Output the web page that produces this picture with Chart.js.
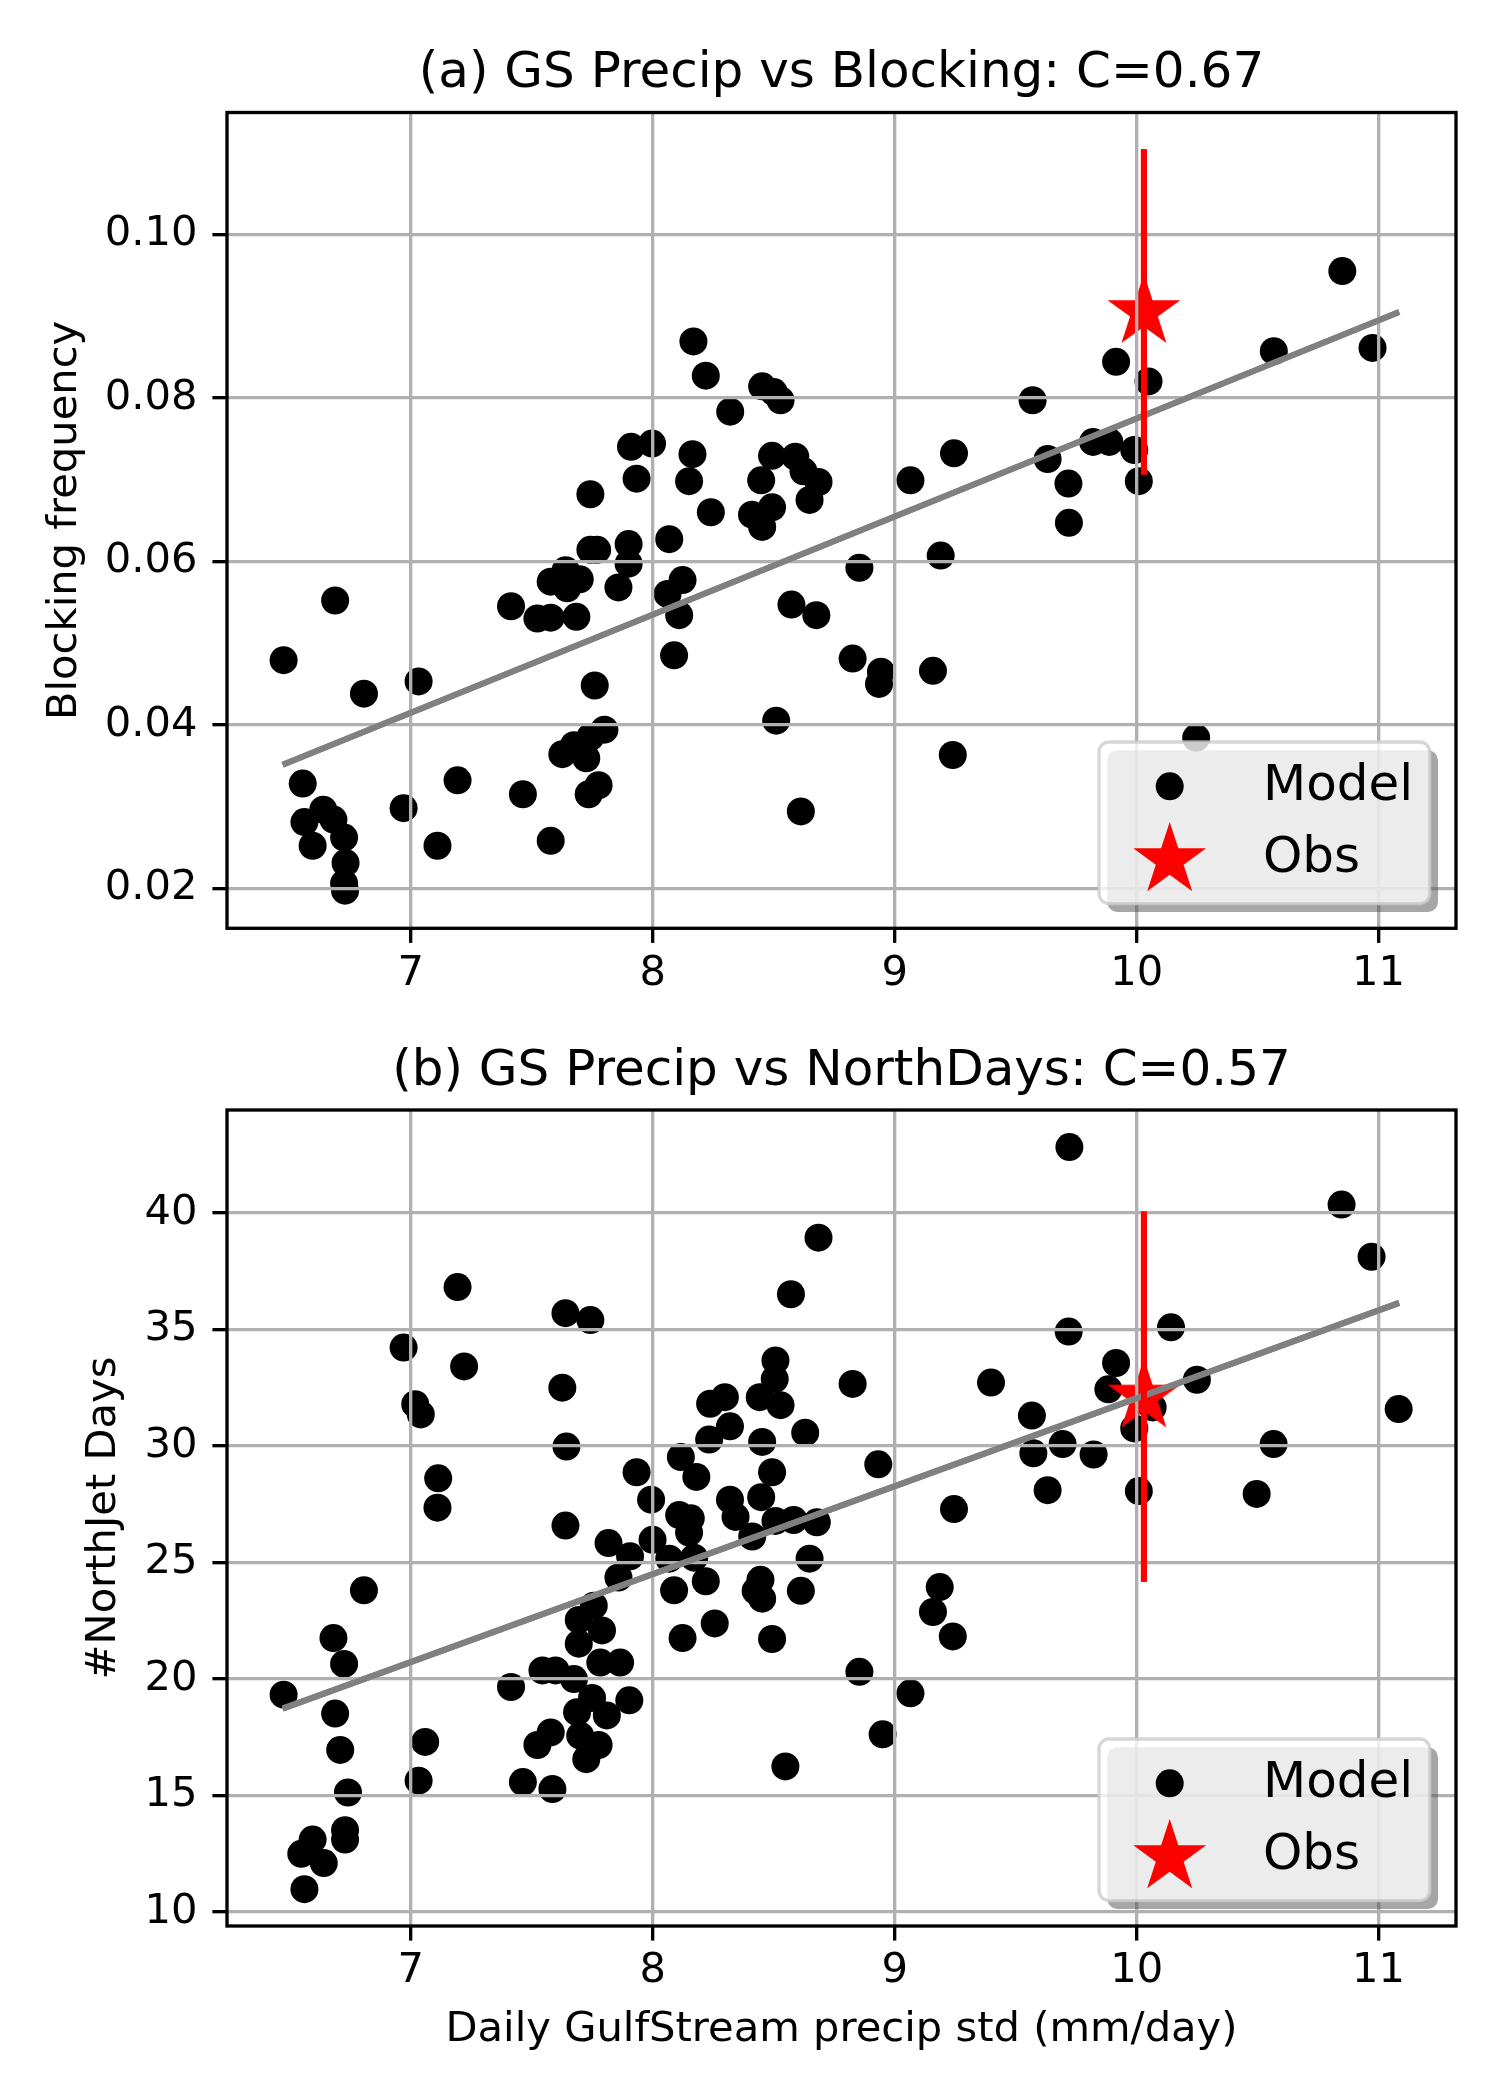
<!DOCTYPE html>
<html><head><meta charset="utf-8">
<script src="https://cdn.jsdelivr.net/npm/chart.js@4.4.1/dist/chart.umd.min.js"></script>
<style>
html,body{margin:0;padding:0;background:#fff;}
body{width:1500px;height:2100px;position:relative;overflow:hidden;font-family:'DejaVu Sans';}
canvas{position:absolute;left:0;}
#cA{top:0;}
#cB{top:1040px;}
svg.leg{position:absolute;left:1091.3px;}
</style></head><body>
<canvas id="cA" width="1500" height="1040"></canvas>
<canvas id="cB" width="1500" height="1060"></canvas>
<svg class="leg" id="legA" width="360" height="190" style="top:733.7px"></svg>
<svg class="leg" id="legB" width="360" height="190" style="top:1731.4px"></svg>
<script>
// ---------- data ----------
const xTicks = [7, 8, 9, 10, 11];
const yTicksA = [0.02, 0.04, 0.06, 0.08, 0.10];
const yTicksB = [10, 15, 20, 25, 30, 35, 40];

const modelXA = [6.474,6.687,6.806,7.032,6.553,6.56,6.638,6.68,6.594,6.724,6.73,6.724,6.728,6.97,7.11,7.193,7.463,7.578,7.414,7.523,7.578,7.684,7.578,7.64,7.646,7.698,7.742,7.77,7.742,7.91,7.933,7.90,7.90,7.858,7.76,7.80,7.742,7.674,7.626,7.725,7.776,7.735,
  8.168,8.219,8.452,8.50,8.528,8.32,7.997,8.164,8.15,8.493,8.589,8.623,8.685,8.648,8.448,8.493,8.41,8.452,8.24,8.068,8.123,8.061,8.109,8.088,8.573,8.676,8.51,8.612,8.854,8.826,8.943,8.935,9.065,9.245,9.19,9.158,9.24,9.57,9.632,
  10.85,10.567,10.975,9.915,10.049,9.82,9.887,9.99,10.009,9.718,9.72,10.246];
const modelYA = [0.0479,0.0552,0.0438,0.0453,0.0328,0.0281,0.0296,0.0284,0.0252,0.0262,0.0231,0.0206,0.0197,0.0298,0.0252,0.0332,0.0315,0.0258,0.0545,0.0530,0.0531,0.0532,0.0575,0.0589,0.0567,0.0578,0.0614,0.0614,0.0682,0.0740,0.0701,0.0621,0.0597,0.0568,0.0448,0.0394,0.0385,0.0375,0.0364,0.0359,0.0326,0.0315,
  0.0869,0.0827,0.0814,0.0807,0.0797,0.0783,0.0744,0.0731,0.0698,0.0729,0.0728,0.0710,0.0697,0.0675,0.0699,0.0666,0.0657,0.0642,0.0660,0.0627,0.0577,0.0560,0.0534,0.0485,0.0547,0.0534,0.0405,0.0294,0.0592,0.0481,0.0465,0.0450,0.0699,0.0732,0.0607,0.0466,0.0363,0.0797,0.0725,
  0.0955,0.0857,0.0861,0.0844,0.0820,0.0746,0.0746,0.0736,0.0698,0.0695,0.0647,0.0384];

const modelXB = [6.474,6.56,6.547,6.594,6.64,6.68,6.724,6.687,6.708,6.74,6.728,6.728,6.806,6.97,7.018,7.041,7.113,7.11,7.193,7.22,7.059,7.032,7.414,7.463,7.523,7.578,7.585,7.544,7.598,7.639,7.742,7.626,7.643,7.639,7.817,7.933,7.858,7.906,7.756,7.694,7.79,7.694,7.674,7.783,7.865,7.749,7.903,7.687,7.81,7.70,7.776,7.725,
  8.685,8.571,8.507,8.504,8.442,8.528,8.63,8.452,8.826,8.932,8.237,8.298,8.319,8.233,8.116,8.18,7.993,8.493,8.319,8.448,8.342,8.109,8.157,8.15,8.507,8.582,8.678,8.411,7.999,8.068,8.171,8.648,8.088,8.219,8.445,8.425,8.452,8.612,8.256,8.123,8.493,8.854,8.95,8.548,9.065,9.186,9.158,9.24,9.245,9.398,9.567,9.573,9.632,
  9.722,10.847,10.971,9.719,10.142,9.915,9.883,10.249,10.066,9.99,11.083,9.694,9.822,10.009,10.566,10.496];
const modelYB = [19.32,10.97,12.49,13.10,12.09,21.75,20.64,18.51,16.95,15.12,13.50,13.10,23.80,34.22,31.79,31.35,28.61,27.35,36.82,33.41,17.29,15.63,19.65,15.57,17.16,17.70,15.27,20.36,20.36,35.70,35.40,32.50,29.97,26.58,25.83,28.87,24.35,25.26,23.14,22.53,22.08,21.51,19.99,20.70,20.70,19.18,19.08,18.57,18.43,17.56,17.16,16.55,
  38.94,36.51,33.67,32.87,32.09,31.75,30.57,30.17,32.66,29.21,31.81,32.09,30.84,30.27,29.52,28.67,27.69,28.87,27.69,27.80,26.95,27.03,26.89,26.28,26.78,26.82,26.72,26.11,25.97,25.16,25.20,25.16,23.80,24.19,24.25,23.78,23.44,23.78,22.38,21.75,21.71,20.30,17.62,16.24,19.38,23.94,22.87,21.82,27.29,32.72,31.30,29.68,28.10,
  42.83,40.36,38.12,34.91,35.09,33.56,32.43,32.84,31.65,30.75,31.58,30.08,29.63,28.06,30.08,27.94];

const obsX = [10.03];
const obsYA = [0.0905];
const obsErrA = [0.0199];
const obsYB = [32.12];
const obsErrB = [7.95];

const fitX = [6.47, 11.085];
const fitYA = [0.0351, 0.0905];
const fitYB = [18.72, 36.14];

// ---------- styling ----------
const FONT = 'DejaVu Sans';
const LW = 3.333;
const STAR_R = 38.3;

function starPoints(cx, cy, R) {
  const r = R * 0.381966, pts = [];
  for (let i = 0; i < 10; i++) {
    const a = -Math.PI / 2 + i * Math.PI / 5;
    const rr = (i % 2) ? r : R;
    pts.push([cx + rr * Math.cos(a), cy + rr * Math.sin(a)]);
  }
  return pts;
}
function makeStar(R, color) {
  const s = 2 * Math.ceil(R + 2);
  const c = document.createElement('canvas');
  c.width = s; c.height = s;
  const g = c.getContext('2d');
  g.fillStyle = color;
  g.beginPath();
  starPoints(s / 2, s / 2, R).forEach(p => g.lineTo(p[0], p[1]));
  g.closePath(); g.fill();
  return c;
}
const starImg = makeStar(STAR_R, '#ff0000');

const overPlugin = {
  id: 'over',
  afterDraw(chart) {
    const ctx = chart.ctx, a = chart.chartArea;
    ctx.save();
    ctx.beginPath();
    ctx.rect(a.left, a.top, a.right - a.left, a.bottom - a.top);
    ctx.clip();
    chart.getDatasetMeta(0).controller.draw();
    chart.getDatasetMeta(1).controller.draw();
    ctx.restore();
    ctx.save();
    ctx.strokeStyle = '#000';
    ctx.lineWidth = LW;
    ctx.strokeRect(a.left, a.top, a.right - a.left, a.bottom - a.top);
    ctx.restore();
  }
};

function makeChart(canvas, cfg) {
  const H = canvas.height;
  const xScale = {
    type: 'linear', min: 6.24, max: 11.32,
    afterBuildTicks: s => { s.ticks = xTicks.map(v => ({ value: v })); },
    afterFit: s => { s.height = H - cfg.bottom; },
    grid: { color: '#b0b0b0', lineWidth: LW, tickColor: '#000', tickWidth: LW, tickLength: 14.6, z: 1 },
    border: { display: false },
    ticks: { color: '#000', font: { family: FONT, size: 41.67 }, padding: 6, maxRotation: 0, autoSkip: false, callback: v => String(v) },
    title: cfg.xTitle ? { display: true, text: cfg.xTitle, color: '#000', font: { family: FONT, size: 41.67, lineHeight: 1.2 }, padding: { top: 0, bottom: cfg.xTitlePad } } : { display: false }
  };
  const yScale = {
    type: 'linear', min: cfg.ymin, max: cfg.ymax,
    afterBuildTicks: s => { s.ticks = cfg.yTicks.map(v => ({ value: v })); },
    afterFit: s => { s.width = 227; },
    grid: { color: '#b0b0b0', lineWidth: LW, tickColor: '#000', tickWidth: LW, tickLength: 14.6, z: 1 },
    border: { display: false },
    ticks: { color: '#000', font: { family: FONT, size: 41.67 }, padding: 15, autoSkip: false, callback: cfg.yFmt },
    title: { display: true, text: cfg.yTitle, color: '#000', font: { family: FONT, size: 41.67, lineHeight: 1.2 }, padding: { top: cfg.yTitlePad, bottom: 0 } }
  };
  return new Chart(canvas, {
    type: 'scatter',
    data: {
      datasets: [
        { label: 'fit', type: 'line', data: fitX.map((x, i) => ({ x, y: cfg.fitY[i] })), borderColor: '#808080', borderWidth: 6, pointRadius: 0, fill: false, tension: 0, order: 1 },
        { label: 'err', type: 'line', data: [{ x: obsX[0], y: cfg.obsY[0] - cfg.obsErr[0] }, { x: obsX[0], y: cfg.obsY[0] + cfg.obsErr[0] }], borderColor: '#ff0000', borderWidth: 6, pointRadius: 0, fill: false, tension: 0, order: 0 },
        { label: 'Obs', data: obsX.map((x, i) => ({ x, y: cfg.obsY[i] })), pointStyle: starImg, pointRadius: STAR_R, backgroundColor: '#ff0000', borderWidth: 0, order: 2 },
        { label: 'Model', data: cfg.mx.map((x, i) => ({ x, y: cfg.my[i] })), pointRadius: 14, pointHoverRadius: 14, backgroundColor: '#000000', borderWidth: 0, order: 3 }
      ]
    },
    options: {
      responsive: false, animation: false, devicePixelRatio: 1, events: [],
      layout: { padding: { left: 0, right: 44, top: 0, bottom: 0 } },
      scales: { x: xScale, y: yScale },
      plugins: {
        legend: { display: false }, tooltip: { enabled: false },
        title: { display: true, fullSize: false, text: cfg.title, color: '#000', font: { family: FONT, size: 50, weight: 'normal', lineHeight: 1.2 }, padding: { top: cfg.tTop, bottom: cfg.tBot } }
      }
    },
    plugins: [overPlugin]
  });
}

makeChart(document.getElementById('cA'), {
  title: '(a) GS Precip vs Blocking: C=0.67', tTop: 43.8, tBot: 8.7,
  bottom: 928.3, ymin: 0.0151, ymax: 0.1149, yTicks: yTicksA, yFmt: v => v.toFixed(2),
  yTitle: 'Blocking frequency', yTitlePad: 40.4, xTitle: null,
  mx: modelXA, my: modelYA, obsY: obsYA, obsErr: obsErrA, fitY: fitYA
});
makeChart(document.getElementById('cB'), {
  title: '(b) GS Precip vs NorthDays: C=0.57', tTop: 2, tBot: 8,
  bottom: 886, ymin: 9.39, ymax: 44.42, yTicks: yTicksB, yFmt: v => String(v),
  yTitle: '#NorthJet Days', yTitlePad: 79, xTitle: 'Daily GulfStream precip std (mm/day)', xTitlePad: 45,
  mx: modelXB, my: modelYB, obsY: obsYB, obsErr: obsErrB, fitY: fitYB
});

// ---------- legends (overlay, matplotlib style with shadow) ----------
function buildLegend(id) {
  const svg = document.getElementById(id);
  const o = 8, W = 330.7, Hh = 161.6;
  const sp = starPoints(o + 70.7, o + 118.2, STAR_R).map(p => p[0].toFixed(2) + ',' + p[1].toFixed(2)).join(' ');
  svg.innerHTML =
    '<rect x="' + (o + 8.3) + '" y="' + (o + 8.3) + '" width="' + W + '" height="' + Hh + '" rx="10" ry="10" fill="rgb(77,77,77)" fill-opacity="0.5"/>' +
    '<rect x="' + o + '" y="' + o + '" width="' + W + '" height="' + Hh + '" rx="10" ry="10" fill="#ffffff" fill-opacity="0.8" stroke="#cccccc" stroke-opacity="0.8" stroke-width="3.3"/>' +
    '<circle cx="' + (o + 70.7) + '" cy="' + (o + 44.3) + '" r="14" fill="#000"/>' +
    '<polygon points="' + sp + '" fill="#ff0000"/>' +
    '<text x="' + (o + 164) + '" y="' + (o + 58.3) + '" font-family="DejaVu Sans" font-size="50" fill="#000">Model</text>' +
    '<text x="' + (o + 164) + '" y="' + (o + 130) + '" font-family="DejaVu Sans" font-size="50" fill="#000">Obs</text>';
}
buildLegend('legA');
buildLegend('legB');
</script>
</body></html>
